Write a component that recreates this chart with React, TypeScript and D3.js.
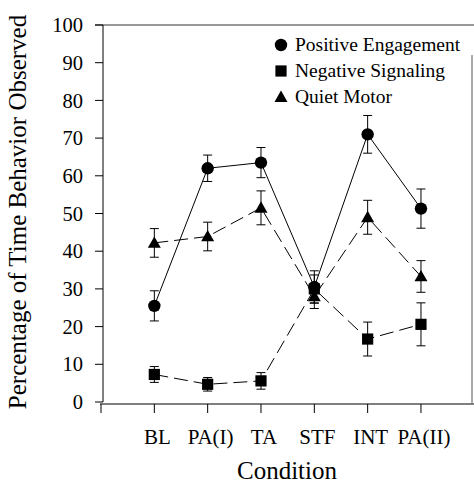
import React from "react";
import * as d3 from "d3";

const categories = ["BL", "PA(I)", "TA", "STF", "INT", "PA(II)"];
const yTicks = [0, 10, 20, 30, 40, 50, 60, 70, 80, 90, 100];

const positiveEngagement = [25.5, 62, 63.5, 30.5, 71, 51.3];
const positiveErr = [4, 3.5, 4, 4.3, 5, 5.2];
const negativeSignaling = [7.3, 4.7, 5.6, 30, 16.7, 20.6];
const negativeErr = [2.1, 1.8, 2.2, 3.7, 4.5, 5.7];
const quietMotor = [42.2, 43.9, 51.5, 28, 49, 33.3];
const quietErr = [3.8, 3.8, 4.5, 3.2, 4.5, 4.2];

const seriesNames = ["Positive Engagement", "Negative Signaling", "Quiet Motor"];

const FONT = "Liberation Serif";

type Marker = "circle" | "square" | "triangle";

function MarkerShape({ kind, cx, cy }: { kind: Marker; cx: number; cy: number }) {
  if (kind === "circle") return <circle cx={cx} cy={cy} r={6.2} fill="#000" />;
  if (kind === "square")
    return <rect x={cx - 5.6} y={cy - 5.6} width={11.2} height={11.2} fill="#000" />;
  const s = 6.5;
  return (
    <path
      d={`M${cx},${cy - s * 1.0} L${cx + s},${cy + s * 0.75} L${cx - s},${cy + s * 0.75} Z`}
      fill="#000"
    />
  );
}

function T(props: any) {
  return <text fill="#000" style={{ fontFamily: FONT }} {...props} />;
}

export default function App() {
  const W = 474;
  const H = 486;
  const x = d3.scaleLinear().domain([0, 7]).range([101, 474.3]);
  const y = d3.scaleLinear().domain([0, 100]).range([402, 25]);

  const series: { vals: number[]; err: number[]; marker: Marker; dash?: string }[] = [
    { vals: negativeSignaling, err: negativeErr, marker: "square", dash: "14,6" },
    { vals: quietMotor, err: quietErr, marker: "triangle", dash: "14,6" },
    { vals: positiveEngagement, err: positiveErr, marker: "circle" },
  ];

  const line = d3
    .line<number>()
    .x((_, i) => x(i + 1))
    .y((d) => y(d));

  const legendMarkers: Marker[] = ["circle", "square", "triangle"];
  const xTickIdx = d3.range(0, 7);

  return (
    <svg
      width={W}
      height={H}
      style={{ position: "absolute", left: 0, top: 0, background: "#fff" }}
    >
      <rect width={W} height={H} fill="#fff" />
      {/* frame */}
      <line x1={95} x2={474} y1={y(100)} y2={y(100)} stroke="#333" strokeWidth={1.2} />
      <line x1={472} x2={472} y1={55} y2={403} stroke="#555" strokeWidth={1} />
      {/* y axis */}
      <line x1={103} x2={103} y1={y(100)} y2={y(0)} stroke="#000" strokeWidth={1} />
      {yTicks.map((t) => (
        <g key={t}>
          <line x1={95} x2={103} y1={y(t)} y2={y(t)} stroke="#000" strokeWidth={1} />
          <T x={83} y={y(t)} dy="0.35em" textAnchor="end" fontSize={20.5}>
            {t}
          </T>
        </g>
      ))}
      {/* x axis */}
      <line x1={100} x2={474} y1={404} y2={404} stroke="#000" strokeWidth={1} />
      {xTickIdx.map((i) => (
        <line key={i} x1={x(i)} x2={x(i)} y1={404} y2={413} stroke="#000" strokeWidth={1} />
      ))}
      {categories.map((c, i) => (
        <T key={c} x={x(i + 1) + 3} y={444} textAnchor="middle" fontSize={21}>
          {c}
        </T>
      ))}
      <T x={287} y={479} textAnchor="middle" fontSize={25}>
        Condition
      </T>
      <T transform={`translate(26,212) rotate(-90)`} textAnchor="middle" fontSize={25}>
        Percentage of Time Behavior Observed
      </T>
      {/* series */}
      {series.map((s, si) => (
        <g key={si}>
          <path
            d={line(s.vals) || ""}
            fill="none"
            stroke="#000"
            strokeWidth={1}
            strokeDasharray={s.dash}
          />
          {s.vals.map((v, i) => {
            const cx = x(i + 1);
            const top = y(v + s.err[i]);
            const bot = y(v - s.err[i]);
            return (
              <g key={i} stroke="#000" strokeWidth={1}>
                <line x1={cx} x2={cx} y1={top} y2={bot} />
                <line x1={cx - 4.5} x2={cx + 4.5} y1={top} y2={top} />
                <line x1={cx - 4.5} x2={cx + 4.5} y1={bot} y2={bot} />
              </g>
            );
          })}
          {s.vals.map((v, i) => (
            <MarkerShape key={"m" + i} kind={s.marker} cx={x(i + 1)} cy={y(v)} />
          ))}
        </g>
      ))}
      {/* legend */}
      {seriesNames.map((n, i) => (
        <g key={n}>
          <MarkerShape kind={legendMarkers[i]} cx={281} cy={45 + i * 26} />
          <T x={295} y={51 + i * 26} fontSize={19.5}>
            {n}
          </T>
        </g>
      ))}
    </svg>
  );
}
